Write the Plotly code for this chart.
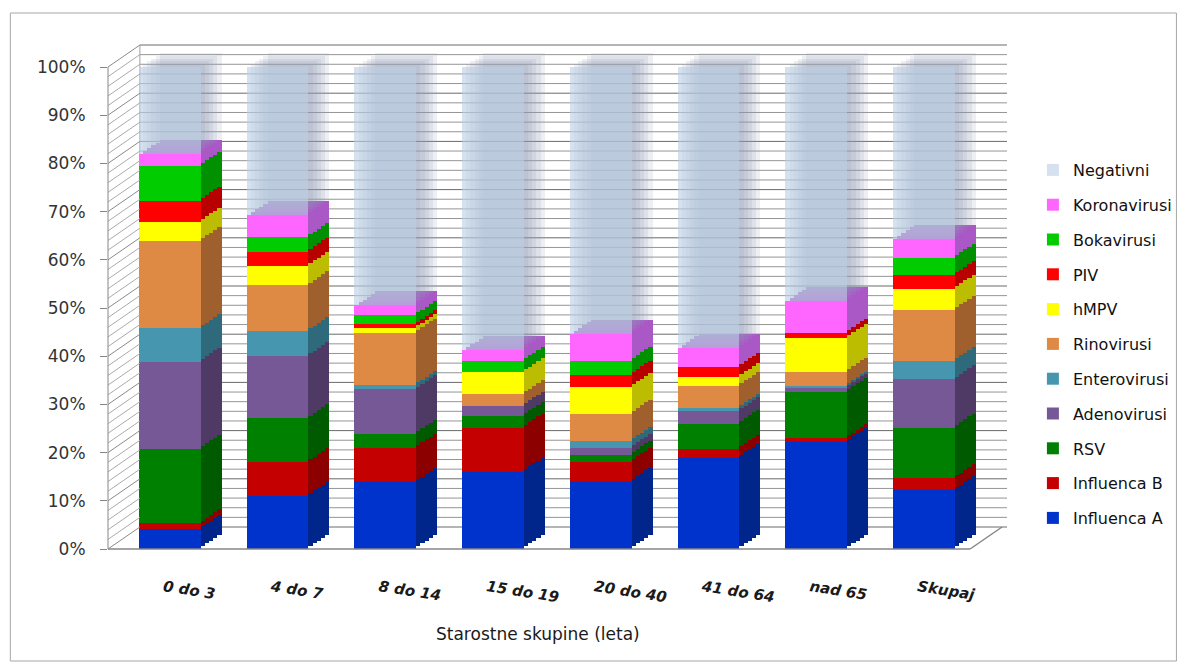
import plotly.graph_objects as go

# ---------------- data (percent of samples) ----------------
categories = ["0 do 3", "4 do 7", "8 do 14", "15 do 19", "20 do 40", "41 do 64", "nad 65", "Skupaj"]

influenca_a = [4.1, 11.0, 13.8, 16.0, 14.0, 18.9, 22.2, 12.2]
influenca_b = [1.2, 7.0, 7.2, 9.2, 4.1, 1.9, 0.8, 2.5]
rsv         = [15.5, 9.1, 2.9, 2.4, 1.5, 5.2, 9.6, 10.5]
adenovirusi = [18.1, 12.9, 9.2, 2.1, 1.4, 2.6, 1.0, 10.0]
enterovirusi = [6.9, 5.2, 0.9, 0.0, 1.4, 0.7, 0.3, 3.8]
rinovirusi  = [18.1, 9.5, 10.9, 2.4, 5.7, 4.5, 2.9, 10.6]
hmpv        = [4.0, 4.0, 0.9, 4.6, 5.5, 1.9, 7.0, 4.4]
piv         = [4.4, 3.0, 0.8, 0.0, 2.6, 2.1, 1.1, 2.8]
bokavirusi  = [7.2, 3.0, 1.9, 2.3, 2.9, 0.0, 0.0, 3.6]
koronavirusi = [2.5, 4.6, 2.1, 2.3, 5.6, 4.0, 6.6, 4.0]
negativni   = [18.0, 30.7, 49.4, 58.7, 55.3, 58.2, 48.5, 35.6]

series_names = ["Influenca A", "Influenca B", "RSV", "Adenovirusi", "Enterovirusi",
                "Rinovirusi", "hMPV", "PIV", "Bokavirusi", "Koronavirusi", "Negativni"]
series_values = [influenca_a, influenca_b, rsv, adenovirusi, enterovirusi,
                 rinovirusi, hmpv, piv, bokavirusi, koronavirusi, negativni]
y_ticks = list(range(0, 101, 10))
y_tick_text = [f"{v}%" for v in y_ticks]

front_colors = ["#0033cc", "#c40000", "#008000", "#765896", "#4696b0",
                "#de8944", "#ffff00", "#ff0000", "#00cc00", "#ff66ff",
                "rgba(188,206,228,0.62)"]
side_colors = ["#00268c", "#8c0000", "#005a00", "#4f3a66", "#2f6a7c",
               "#a0602e", "#bcbc00", "#b80000", "#009000", "#a958c6",
               "rgba(140,155,178,0.16)"]

# ---------------- geometry (reference pixels) ----------------
OFF = 8                      # page body margin in the browser
W, H = 1189 - OFF, 669 - OFF
L, RPX, TPX, BPX = 108, 1010, 34, 549
PW, PH = RPX - L, BPX - TPX
SPX = 108.1          # pixels per category
YPU = 4.82           # pixels per percent
X0 = -(170 - L) / SPX
X1 = X0 + PW / SPX
YTOP = PH / YPU
DX = 21 / SPX        # depth offset (category units)
DY = 14 / YPU        # depth offset (percent units)
WALL_DX, WALL_DY = 32, 22


def pxx(px):
    return (px - L) / PW


def pxy(py):
    return (BPX - py) / PH


FONT = "DejaVu Sans"

fig = go.Figure()

fracs = [1.0, 0.8, 0.6, 0.4, 0.2, 0.0]
layout_axes = {}
for i, f in enumerate(fracs):
    n = i + 2
    front = (f == 0.0)
    for k, (name, vals, fc, sc) in enumerate(zip(series_names, series_values, front_colors, side_colors)):
        fig.add_trace(go.Bar(
            x=categories, y=vals, name=name,
            marker=dict(color=fc if front else sc, line=dict(width=0)),
            xaxis=f"x{n}", yaxis=f"y{n}",
            showlegend=front, legendgroup=name, legendrank=100 - k,
            hoverinfo=None if front else "skip",
        ))
    xa = dict(range=[X0 - f * DX, X1 - f * DX], domain=[0, 1], anchor=f"y{n}",
              showgrid=False, zeroline=False, showline=False, fixedrange=True)
    ya = dict(range=[-f * DY, YTOP - f * DY], domain=[0, 1], anchor=f"x{n}",
              showgrid=False, zeroline=False, showline=False, fixedrange=True)
    if n > 2:
        xa["overlaying"] = "x2"
        ya["overlaying"] = "y2"
    if not front:
        xa.update(showticklabels=False, ticks="")
        ya.update(showticklabels=False, ticks="")
    else:
        xa.update(
            tickfont=dict(family=FONT, size=15, color="#1a1a1a", weight="bold", style="italic"),
            tickangle=9, ticks="", ticklabelstandoff=26, ticklabelshift=-6,
        )
        ya.update(
            tickmode="array", tickvals=y_ticks, ticktext=y_tick_text,
            ticks="outside", ticklen=7, tickcolor="#868686",
            tickfont=dict(family=FONT, size=17, color="#333333"),
            ticklabelstandoff=11,
        )
    layout_axes[f"xaxis{n}"] = xa
    layout_axes[f"yaxis{n}"] = ya

shapes = []
# back wall gridlines and left wall hatch (gridline continuations)
for v in range(0, 101, 2):
    yf = BPX - v * YPU
    major = (v % 10 == 0)
    shapes.append(dict(type="line", xref="paper", yref="paper", layer="below",
                       x0=pxx(L + WALL_DX), y0=pxy(yf - WALL_DY), x1=pxx(RPX), y1=pxy(yf - WALL_DY),
                       line=dict(color="#6a6a6a" if major else "#959595", width=1)))
    shapes.append(dict(type="line", xref="paper", yref="paper", layer="above",
                       x0=pxx(L), y0=pxy(yf), x1=pxx(L + WALL_DX), y1=pxy(yf - WALL_DY),
                       line=dict(color="#8a8a8a" if major else "#ababab", width=1)))
shapes.append(dict(type="line", xref="paper", yref="paper",
                   x0=pxx(L), y0=pxy(BPX), x1=pxx(L), y1=pxy(BPX - 100 * YPU),
                   line=dict(color="#868686", width=1)))
shapes.append(dict(type="line", xref="paper", yref="paper", layer="below",
                   x0=pxx(L + WALL_DX), y0=pxy(BPX - WALL_DY), x1=pxx(L + WALL_DX),
                   y1=pxy(BPX - WALL_DY - 100 * YPU),
                   line=dict(color="#a0a0a0", width=1)))
# floor outline
shapes.append(dict(type="line", xref="paper", yref="paper",
                   x0=pxx(L), y0=pxy(BPX), x1=pxx(973), y1=pxy(BPX),
                   line=dict(color="#868686", width=1.5)))
shapes.append(dict(type="line", xref="paper", yref="paper",
                   x0=pxx(973), y0=pxy(BPX), x1=pxx(1005), y1=pxy(BPX - WALL_DY),
                   line=dict(color="#868686", width=1.5)))
# chart border
shapes.append(dict(type="rect", xref="paper", yref="paper",
                   x0=pxx(10), y0=pxy(661), x1=pxx(1180), y1=pxy(13),
                   line=dict(color="#a6a6a6", width=1), layer="below"))

fig.update_layout(
    width=W, height=H,
    margin=dict(l=L - OFF, r=W - (RPX - OFF), t=TPX - OFF, b=H - (BPX - OFF)),
    paper_bgcolor="white", plot_bgcolor="rgba(0,0,0,0)",
    barmode="stack", bargap=1 - 62 / SPX,
    font=dict(family=FONT, color="#1a1a1a"),
    showlegend=True,
    legend=dict(x=pxx(1036), xanchor="left", y=pxy(153), yanchor="top",
                traceorder="grouped", tracegroupgap=11,
                font=dict(family=FONT, size=16, color="#111111"),
                bgcolor="rgba(0,0,0,0)", itemclick=False, itemdoubleclick=False),
    shapes=shapes,
    annotations=[dict(text="Starostne skupine (leta)", xref="paper", yref="paper",
                      x=pxx(539), y=pxy(634), xanchor="center", yanchor="middle",
                      showarrow=False, font=dict(family=FONT, size=17, color="#1a1a1a"))],
    **layout_axes,
)

fig.write_html("out.html")
